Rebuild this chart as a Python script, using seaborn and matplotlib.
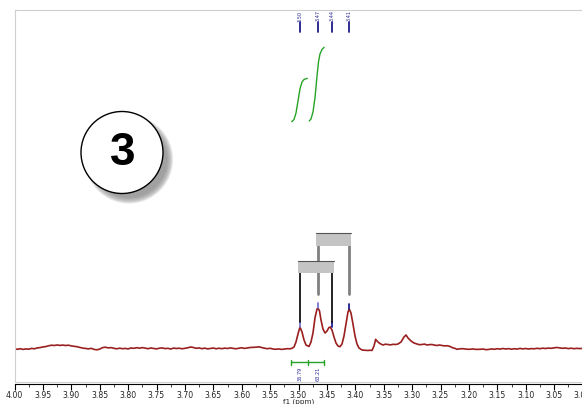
import numpy as np
import pandas as pd
import matplotlib.pyplot as plt
import matplotlib.patches as mpatches
from matplotlib.transforms import IdentityTransform
from matplotlib.ticker import MultipleLocator
import seaborn as sns

# 1H spectrum trace (ppm, intensity a.u.)
shift_ppm = [
    4.000, 3.995, 3.990, 3.985, 3.980, 3.975, 3.970, 3.965, 3.960, 3.955,
    3.950, 3.945, 3.940, 3.935, 3.930, 3.925, 3.920, 3.915, 3.910, 3.905,
    3.900, 3.895, 3.890, 3.885, 3.880, 3.875, 3.870, 3.865, 3.860, 3.855,
    3.850, 3.845, 3.840, 3.835, 3.830, 3.825, 3.820, 3.815, 3.810, 3.805,
    3.800, 3.795, 3.790, 3.785, 3.780, 3.775, 3.770, 3.765, 3.760, 3.755,
    3.750, 3.745, 3.740, 3.735, 3.730, 3.725, 3.720, 3.715, 3.710, 3.705,
    3.700, 3.695, 3.690, 3.685, 3.680, 3.675, 3.670, 3.665, 3.660, 3.655,
    3.650, 3.645, 3.640, 3.635, 3.630, 3.625, 3.620, 3.615, 3.610, 3.605,
    3.600, 3.595, 3.590, 3.585, 3.580, 3.575, 3.570, 3.565, 3.560, 3.555,
    3.550, 3.545, 3.540, 3.535, 3.530, 3.525, 3.520, 3.515,
    3.5114, 3.5079, 3.5044, 3.5009, 3.4974, 3.4938, 3.4903, 3.4868, 3.4815,
    3.4780, 3.4745, 3.4710, 3.4674, 3.4657, 3.4630, 3.4604, 3.4569, 3.4533,
    3.4498, 3.4463, 3.4440, 3.4410, 3.4375, 3.4340, 3.4305, 3.4269, 3.4234,
    3.4199, 3.4164, 3.4129, 3.4106, 3.4076, 3.4041, 3.4005, 3.3970, 3.3935,
    3.3882, 3.3830, 3.3776, 3.3740, 3.3706, 3.3671, 3.3641, 3.3618, 3.3590,
    3.3565, 3.3540, 3.3512, 3.3470, 3.3424, 3.3380, 3.3336, 3.3290, 3.3248,
    3.3195, 3.3143, 3.3107, 3.3072, 3.3019, 3.2967, 3.2914, 3.2870, 3.2826,
    3.2780, 3.2738, 3.2690, 3.2650, 3.2600, 3.2562, 3.2520, 3.2474, 3.2430,
    3.2386, 3.2340, 3.2298, 3.2250, 3.2210, 3.2160, 3.2104, 3.2040, 3.1981,
    3.1930, 3.1880, 3.1805,
    3.175, 3.170, 3.165, 3.160, 3.155, 3.150, 3.145, 3.140, 3.135, 3.130,
    3.125, 3.120, 3.115, 3.110, 3.105, 3.100, 3.095, 3.090, 3.085, 3.080,
    3.075, 3.070, 3.065, 3.060, 3.055, 3.050, 3.045, 3.040, 3.035, 3.030,
    3.025, 3.020, 3.015, 3.010, 3.005, 3.000,
]
intensity = [
    -0.3, -0.8, -0.2, -0.9, -0.4, -0.7, 0.1, -0.3, 0.6, 0.9,
    1.6, 1.9, 2.7, 3.3, 3.0, 3.5, 3.1, 3.4, 3.0, 3.3,
    2.6, 2.2, 1.8, 1.1, 0.4, 0.1, -0.4, 0.2, -0.9, -1.3,
    -0.6, 0.9, 1.3, 0.6, 0.9, 0.2, -0.3, 0.3, -0.2, 0.1,
    -0.4, 0.5, 0.2, 0.8, 0.3, 0.9, 0.4, -0.2, 0.5, 0.1,
    -0.4, 0.3, 0.6, -0.1, 0.2, -0.5, 0.4, 0.0, 0.3, -0.3,
    0.2, 0.7, 1.5, 1.0, 0.2, 0.6, -0.2, 0.4, -0.4, 0.1,
    0.5, -0.3, 0.3, -0.2, 0.4, 0.0, 0.6, 0.2, -0.3, 0.3,
    0.7, 0.1, 0.5, 1.0, 1.1, 1.3, 1.7, 1.0, 0.3, -0.2,
    0.2, -0.5, -0.8, -0.4, -0.9, -0.5, -0.2, -0.3,
    0.2, 1.5, 6.5, 14.5, 21.5, 16.5, 8.5, 3.5, 2.0,
    6.5, 15.5, 30.5, 39.5, 40.5, 37.5, 28.5, 19.5, 15.5,
    17.5, 21.0, 21.5, 18.5, 11.5, 5.5, 2.5, 1.8, 4.5,
    12.5, 24.5, 36.5, 39.5, 35.5, 24.5, 12.5, 4.5, 0.5,
    -1.5, -1.8, -2.0, -1.7, -2.0, 2.5, 9.2, 7.5, 6.0,
    5.0, 4.2, 3.5, 4.3, 4.0, 3.6, 4.2, 4.0, 4.5,
    6.5, 11.5, 13.5, 10.5, 7.5, 5.5, 4.5, 3.8, 4.0,
    4.4, 3.5, 3.9, 4.0, 3.3, 3.0, 3.5, 3.0, 2.6,
    2.8, 2.2, 1.0, 0.2, -0.8, -0.3, -0.2, -0.7, -0.8,
    -0.4, -0.9, -0.8,
    -0.5, -1.2, -0.9, -0.4, -0.8, -0.2, -0.6, 0.0, -0.5, -0.1,
    -0.7, -0.2, -0.6, 0.1, -0.4, 0.0, -0.5, -0.1, -0.3, 0.2,
    -0.2, 0.3, 0.0, 0.4, 0.2, 0.7, 1.0, 0.6, 0.2, 0.5,
    -0.1, 0.3, -0.2, 0.2, -0.1, 0.1,
]

# picked peaks (labels on top)
peak_ppm = [3.497, 3.466, 3.441, 3.411]
peak_height = [21.5, 40.5, 21.5, 39.5]
peak_labels = ["3.50", "3.47", "3.44", "3.41"]

# multiplet trees: pairs of peaks joined by one bar
multiplets = [(3.497, 3.441), (3.466, 3.411)]

# integration regions and values
integral_edges = [3.5132, 3.4833, 3.4546]
integral_values = ["36.79", "63.21"]
integral_label_ppm = [3.4965, 3.4655]

# running integral curves
int1_ppm = [3.5120, 3.5079, 3.5044, 3.5009, 3.4974, 3.4938, 3.4903, 3.4845]
int1_val = [226.8, 229.0, 235.5, 247.5, 259.5, 266.5, 269.0, 270.2]
int2_ppm = [3.4810, 3.4780, 3.4745, 3.4710, 3.4674, 3.4648, 3.4622, 3.4586, 3.4551]
int2_val = [227.5, 229.5, 236.5, 250.5, 272.5, 286.5, 294.5, 299.0, 301.2]

spec = pd.DataFrame({"ppm": shift_ppm, "intensity": intensity})

sns.set_style("white")
fig = plt.figure(figsize=(5.82, 4.04), dpi=100)
ax = fig.add_axes([14.5 / 582, 22 / 404, 568 / 582, 372 / 404])

sns.lineplot(data=spec, x="ppm", y="intensity", ax=ax, sort=False,
             color="#9a1f1f", linewidth=1.2)
sns.lineplot(x=int1_ppm, y=int1_val, ax=ax, sort=False, color="#26a326", linewidth=1.0)
sns.lineplot(x=int2_ppm, y=int2_val, ax=ax, sort=False, color="#26a326", linewidth=1.0)

ax.set_xlim(4.0, 3.0)
ax.set_ylim(-33.5, 338.5)

# peak labels at the top
marker_cols = ["#7575cc", "#7575cc", "#1c1c8c", "#1c1c8c"]
for p, h, lab, c in zip(peak_ppm, peak_height, peak_labels, marker_cols):
    ax.text(p, 332.5, lab, rotation=90, ha="center", va="center",
            fontsize=3.6, color="#2a2a9a")
    ax.plot([p, p], [316.8, 326.8], color="#1c1c8c", lw=1.3)
    ax.plot([p, p], [h + 0.5, h + 5], color=c, lw=1.3)

# multiplet trees
levels = [(75.2, 87.8, 26.8, "black", 1.2), (102.8, 115.2, 54.8, "#808080", 2.0)]
for (a, b), (y0, y1, yleg, lc, lw) in zip(multiplets, levels):
    for p in (a, b):
        ax.plot([p, p], [yleg, y0], color=lc, lw=lw, zorder=2)
    pad = 0.0035
    ax.add_patch(mpatches.Rectangle((b - pad, y0), (a - b) + 2 * pad, y1 - y0,
                                    facecolor="#c4c4c4", edgecolor="none", zorder=3))
    ax.plot([a + pad, b - pad], [y1, y1], color="#555555", lw=0.8, zorder=4)

# integration bracket
ax.plot([integral_edges[0], integral_edges[-1]], [-13.5, -13.5], color="#26a326", lw=1.0)
for e in integral_edges:
    ax.plot([e, e], [-16, -11], color="#26a326", lw=1.0)
for p, v in zip(integral_label_ppm, integral_values):
    ax.text(p, -25, v, rotation=90, ha="center", va="center", fontsize=3.6, color="#2a2a9a")

# axes look
for s in ["top", "left", "right"]:
    ax.spines[s].set_color("#cfcfcf")
    ax.spines[s].set_linewidth(0.8)
ax.spines["bottom"].set_color("black")
ax.spines["bottom"].set_linewidth(0.8)
ax.spines["bottom"].set_position(("outward", 1.5))
ax.plot([0, 1], [0, 0], transform=ax.transAxes, color="#cfcfcf", lw=0.8, clip_on=False)
ax.set_yticks([])
ax.set_ylabel("")
ax.xaxis.set_major_locator(MultipleLocator(0.05))
ax.xaxis.set_minor_locator(MultipleLocator(0.025))
ax.xaxis.set_major_formatter(plt.FuncFormatter(lambda v, _: f"{v:.2f}"))
ax.tick_params(axis="x", which="major", direction="out", length=4, width=0.8,
               labelsize=5.6, pad=1, colors="black", labelcolor="#222222", bottom=True)
ax.tick_params(axis="x", which="minor", direction="out", length=2, width=0.6, bottom=True)
ax.set_xlabel("f1 (ppm)", fontsize=5.2, labelpad=-0.8, color="#222222")

# compound number badge with drop shadow
cx, cy, r = 122, 404 - 152.5, 41
for i in range(7):
    fig.add_artist(mpatches.Circle((cx + 7, cy - 7), r + 3 - i, transform=IdentityTransform(),
                                   facecolor="#8a8a8a", edgecolor="none", alpha=0.2))
fig.add_artist(mpatches.Circle((cx, cy), r, transform=IdentityTransform(),
                               facecolor="white", edgecolor="black", linewidth=1.0))
fig.text(123 / 582, (404 - 165) / 404, "3", ha="center", va="baseline", color="black",
         fontsize=33, fontweight="bold", family=["Liberation Sans", "DejaVu Sans"])

fig.savefig("out.png", dpi=100)
